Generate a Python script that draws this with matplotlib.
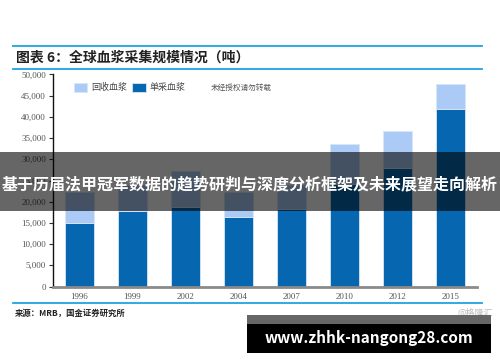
import matplotlib
matplotlib.use('Agg')
import matplotlib.pyplot as plt
from matplotlib.patches import Rectangle
from matplotlib.lines import Line2D

plt.rcParams['font.family'] = ['Noto Sans CJK SC', 'DejaVu Sans']

# 数据 (吨)
years = ['1996', '1999', '2002', '2004', '2007', '2010', '2012', '2015']
single = [15000, 17800, 18800, 16500, 18300, 24100, 28000, 41900]      # 单采血浆
recovered = [7400, 6100, 8400, 5900, 5600, 9500, 8700, 5900]          # 回收血浆
yticks = [0, 5000, 10000, 15000, 20000, 25000, 30000, 35000, 40000, 45000, 50000]

W, H = 500, 362
DARK = '#0667b0'
LIGHT = '#abcbf6'
LINE_BLUE = '#1ea4e4'


def fx(x):
    return x / W


def fy(y):
    return 1 - y / H


fig = plt.figure(figsize=(5, 3.62), dpi=100)
ax = fig.add_axes([fx(53), fy(286.5), fx(477 - 53), (286.5 - 74.5) / H])

x = range(len(years))
ax.bar(x, single, width=0.56, color=DARK, edgecolor='#d8e6f5', linewidth=0.6,
       label='单采血浆', zorder=2)
ax.bar(x, recovered, width=0.56, bottom=single, color=LIGHT, edgecolor='#d8e6f5',
       linewidth=0.6, label='回收血浆', zorder=2)

ax.set_xlim(-0.5, len(years) - 0.5)
ax.set_ylim(0, 50000)
ax.set_xticks(list(x))
ax.set_xticklabels(years, family='Liberation Serif', fontsize=6.5, color='#555555')
ax.set_yticks(yticks)
ax.set_yticklabels([f'{v:,}' for v in yticks], family='Liberation Serif',
                   fontsize=6.5, color='#555555')
ax.tick_params(axis='x', length=0, pad=5)
ax.tick_params(axis='y', length=3, width=0.8, direction='out', pad=2, color='#333333')
for side in ['top', 'right']:
    ax.spines[side].set_visible(False)
ax.spines['left'].set_color('#111111')
ax.spines['left'].set_linewidth(1.0)
ax.spines['bottom'].set_color('#8a8a8a')
ax.spines['bottom'].set_linewidth(2.0)

# 图例
handles, labels = ax.get_legend_handles_labels()
ax.legend(handles[::-1], labels[::-1], loc='upper left', ncol=2, frameon=False,
          bbox_to_anchor=(0.03, 1.0), fontsize=6.5, handlelength=1.5,
          handleheight=1.2, columnspacing=0.6, handletextpad=0.4,
          labelcolor='#444444')
fig.text(fx(211), fy(88), '未经授权请勿转载', fontsize=5.5, color='#555555',
         va='center')

# 标题与分隔线
for yy in [46, 69, 303]:
    fig.add_artist(Line2D([fx(13), fx(482)], [fy(yy), fy(yy)], color=LINE_BLUE,
                          linewidth=1.3))
fig.text(fx(16), fy(57.5), '图表 6：全球血浆采集规模情况（吨）', fontsize=10,
         fontweight='bold', color='#222222', va='center')
fig.text(fx(15), fy(313), '来源：MRB，国金证券研究所', fontsize=6,
         fontweight='bold', color='#222222', va='center')
fig.text(fx(493), fy(313), '@格隆汇', fontsize=6.5, color='#bbbbbb',
         va='center', ha='right')

# 横幅
fig.add_artist(Rectangle((0, fy(211)), 1, (211 - 152) / H, transform=fig.transFigure,
                         facecolor='black', alpha=0.6, edgecolor='none', zorder=10))
fig.text(0.5, fy(184), '基于历届法甲冠军数据的趋势研判与深度分析框架及未来展望走向解析',
         fontsize=11.5, fontweight='bold', color='white', ha='center', va='center',
         zorder=11)

# 底部网址框
fig.add_artist(Rectangle((fx(247), fy(353)), fx(491 - 247), (353 - 315) / H,
                         transform=fig.transFigure, facecolor='black',
                         edgecolor='none', zorder=10))
fig.add_artist(Rectangle((fx(247), fy(323.5)), fx(491 - 247), 8.5 / H,
                         transform=fig.transFigure, facecolor='#666666',
                         edgecolor='none', zorder=10))
fig.text(fx(369), fy(337.5), 'www.zhhk-nangong28.com', fontsize=11,
         fontweight='bold', color='white', ha='center', va='center', zorder=11)

fig.savefig('out.png', dpi=100)
